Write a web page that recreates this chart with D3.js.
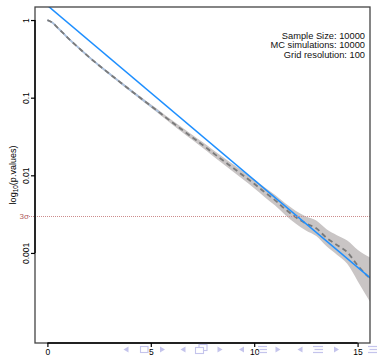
<!DOCTYPE html>
<html>
<head>
<meta charset="utf-8">
<script src="https://cdn.jsdelivr.net/npm/d3@7"></script>
<style>
  html, body { margin: 0; padding: 0; background: #fff; }
  svg { display: block; font-family: "Liberation Sans", Arial, Helvetica, sans-serif; }
</style>
</head>
<body>
<script>
// ---------------- data ----------------
const xGrid = [0, 0.25, 0.5, 0.75, 1, 1.5, 2, 2.5, 3, 3.5, 4, 4.5, 5, 5.5, 6, 6.5, 7, 7.5,
               8, 8.5, 9, 9.5, 10, 10.5, 11, 11.5, 12, 12.5, 13, 13.5, 14, 14.5, 15, 15.6];
// MC estimate of the p-value (log10), dashed grey line
const mcLog10 = [0, -0.035, -0.100, -0.165, -0.233, -0.355, -0.475, -0.585, -0.692, -0.797,
                 -0.901, -1.004, -1.106, -1.208, -1.311, -1.411, -1.510, -1.608, -1.710, -1.810,
                 -1.909, -2.009, -2.109, -2.216, -2.319, -2.436, -2.538, -2.621, -2.683, -2.805,
                 -2.897, -2.990, -3.160, -3.330];
// uncertainty band (log10)
const bandLoLog10 = [-0.005, -0.041, -0.107, -0.173, -0.242, -0.365, -0.486, -0.597, -0.705, -0.812,
                     -0.918, -1.023, -1.127, -1.232, -1.338, -1.441, -1.543, -1.644, -1.750, -1.854,
                     -1.957, -2.061, -2.166, -2.278, -2.387, -2.511, -2.620, -2.711, -2.783, -2.915,
                     -3.022, -3.140, -3.360, -3.630];
const bandHiLog10 = [0.005, -0.029, -0.093, -0.157, -0.224, -0.345, -0.464, -0.573, -0.679, -0.782,
                     -0.884, -0.985, -1.085, -1.184, -1.284, -1.381, -1.477, -1.572, -1.670, -1.766,
                     -1.861, -1.957, -2.052, -2.154, -2.251, -2.361, -2.456, -2.531, -2.583, -2.695,
                     -2.772, -2.840, -2.960, -3.060];
// asymptotic bound (blue straight line)
const boundX = [0, 16];
const boundP = [1.54, 0.00039];
// 3 sigma reference
const sigma3P = 0.003;
const sigma3Label = "3\u03c3";
// ticks
const xTicks = [0, 5, 10, 15];
const yTicks = [1, 0.1, 0.01, 0.001];
const yTickLabels = ["1", "0.1", "0.01", "0.001"];
const infoLines = ["Sample Size: 10000", "MC simulations: 10000", "Grid resolution: 100"];

// ---------------- layout ----------------
const W = 380, H = 360;
const L = 35, R = 370, T = 7, B = 343;

const svg = d3.select("body").append("svg").attr("width", W).attr("height", H);

const x = d3.scaleLinear().domain([-0.6, 15.6]).range([L, R]);
const y = d3.scaleLog().domain([Math.pow(10, -4.16), Math.pow(10, 0.168)]).range([B, T]);

svg.append("defs").append("clipPath").attr("id", "plotclip")
  .append("rect").attr("x", L).attr("y", T).attr("width", R - L).attr("height", B - T);

const plot = svg.append("g").attr("clip-path", "url(#plotclip)");

const mc = xGrid.map((xv, i) => ({
  x: xv, p: Math.pow(10, mcLog10[i]),
  lo: Math.pow(10, bandLoLog10[i]), hi: Math.pow(10, bandHiLog10[i])
}));

// band
plot.append("path").datum(mc)
  .attr("d", d3.area().x(d => x(d.x)).y0(d => y(d.lo)).y1(d => y(d.hi)).curve(d3.curveMonotoneX))
  .attr("fill", "#c9c5c5").attr("stroke", "none");

// 3 sigma dotted line
svg.append("line")
  .attr("x1", 29).attr("x2", R)
  .attr("y1", Math.round(y(sigma3P)) + 0.5).attr("y2", Math.round(y(sigma3P)) + 0.5)
  .attr("stroke", "#cc8c8c").attr("stroke-width", 1).attr("stroke-dasharray", "1,1");
svg.append("text").text(sigma3Label)
  .attr("x", 29).attr("y", y(sigma3P)).attr("dy", "0.33em")
  .attr("text-anchor", "end").attr("font-size", 8).attr("fill", "#b06060");

// light blue underlay (visible in the gaps of the dashed line where the band is thin)
plot.append("path").datum(mc.filter(d => d.x <= 5.5))
  .attr("d", d3.line().x(d => x(d.x)).y(d => y(d.p)).curve(d3.curveMonotoneX))
  .attr("fill", "none").attr("stroke", "#a9bfdc").attr("stroke-width", 1.8);

// dashed MC line
plot.append("path").datum(mc)
  .attr("d", d3.line().x(d => x(d.x)).y(d => y(d.p)).curve(d3.curveMonotoneX))
  .attr("fill", "none").attr("stroke", "#7a7a7a").attr("stroke-width", 1.8)
  .attr("stroke-dasharray", "5,3.5");

// blue bound
plot.append("path").datum(boundX.map((xv, i) => ({ x: xv, p: boundP[i] })))
  .attr("d", d3.line().x(d => x(d.x)).y(d => y(d.p)))
  .attr("fill", "none").attr("stroke", "#1e8fff").attr("stroke-width", 1.5);

// box
svg.append("rect").attr("x", L).attr("y", T).attr("width", R - L).attr("height", B - T)
  .attr("fill", "none").attr("stroke", "#444").attr("stroke-width", 1.3);

// axes
const gx = svg.append("g").attr("transform", `translate(0,${B})`)
  .call(d3.axisBottom(x).tickValues(xTicks).tickSize(4).tickPadding(2).tickFormat(d3.format("d")));
gx.select(".domain").remove();
gx.selectAll(".tick line").attr("stroke", "#000").attr("stroke-width", 1.2);
gx.selectAll(".tick text").attr("font-size", 8.5).attr("fill", "#000")
  .attr("font-family", "Liberation Sans, Arial, sans-serif");
svg.append("line").attr("x1", x(xTicks[0])).attr("x2", x(xTicks[xTicks.length - 1]))
  .attr("y1", B).attr("y2", B).attr("stroke", "#000").attr("stroke-width", 1.4);

const gy = svg.append("g").attr("transform", `translate(${L},0)`)
  .call(d3.axisLeft(y).tickValues(yTicks).tickSize(4).tickFormat((d, i) => yTickLabels[i]));
gy.select(".domain").remove();
gy.selectAll(".tick line").attr("stroke", "#000").attr("stroke-width", 1.2);
gy.selectAll(".tick text")
  .attr("x", null).attr("dy", null)
  .attr("transform", "translate(-6.5,0) rotate(-90)")
  .attr("text-anchor", "middle").attr("font-size", 8.5).attr("fill", "#000")
  .attr("font-family", "Liberation Sans, Arial, sans-serif");
svg.append("line").attr("x1", L).attr("x2", L)
  .attr("y1", y(yTicks[0])).attr("y2", y(yTicks[yTicks.length - 1]))
  .attr("stroke", "#000").attr("stroke-width", 1.4);

// y axis title
const yt = svg.append("text").attr("transform", `translate(15.5,${(T + B) / 2}) rotate(-90)`)
  .attr("text-anchor", "middle").attr("font-size", 9).attr("fill", "#000");
yt.append("tspan").text("log");
yt.append("tspan").text("10").attr("font-size", 6.5).attr("dy", 2);
yt.append("tspan").text("(p.values)").attr("dy", -2);

// info text
infoLines.forEach((s, i) => {
  svg.append("text").text(s).attr("x", 365).attr("y", 38.5 + i * 9.5)
    .attr("text-anchor", "end").attr("font-size", 9.3).attr("fill", "#111");
});

// beamer navigation symbols (decoration)
const nav = svg.append("g").attr("fill", "#c4c4ec").attr("stroke", "#c4c4ec");
const navY = 349.5;
function triL(cx) { nav.append("path").attr("d", `M${cx - 2.5},${navY} L${cx + 2.5},${navY - 3} L${cx + 2.5},${navY + 3} Z`).attr("stroke", "none"); }
function triR(cx) { nav.append("path").attr("d", `M${cx + 2.5},${navY} L${cx - 2.5},${navY - 3} L${cx - 2.5},${navY + 3} Z`).attr("stroke", "none"); }
function lines3(x0, w) {
  [-3, 0, 3].forEach((dy, k) => nav.append("line").attr("x1", x0 + (k === 1 ? 1.5 : 0)).attr("x2", x0 + w)
    .attr("y1", navY + dy).attr("y2", navY + dy).attr("stroke-width", 1.2));
}
triL(126);
nav.append("rect").attr("x", 140.5).attr("y", navY - 3).attr("width", 7.5).attr("height", 6)
  .attr("fill", "none").attr("stroke-width", 1.1);
triR(162.5); triL(183);
nav.append("rect").attr("x", 199).attr("y", navY - 5).attr("width", 8).attr("height", 6)
  .attr("fill", "#fff").attr("stroke-width", 1.1);
nav.append("rect").attr("x", 195.5).attr("y", navY - 2).attr("width", 8).attr("height", 6)
  .attr("fill", "#fff").attr("stroke-width", 1.1);
triR(220); triL(241.5);
lines3(258, 9);
triR(278); triL(300);
lines3(313, 10);
triR(336.5);
lines3(368, 9);
</script>
</body>
</html>
